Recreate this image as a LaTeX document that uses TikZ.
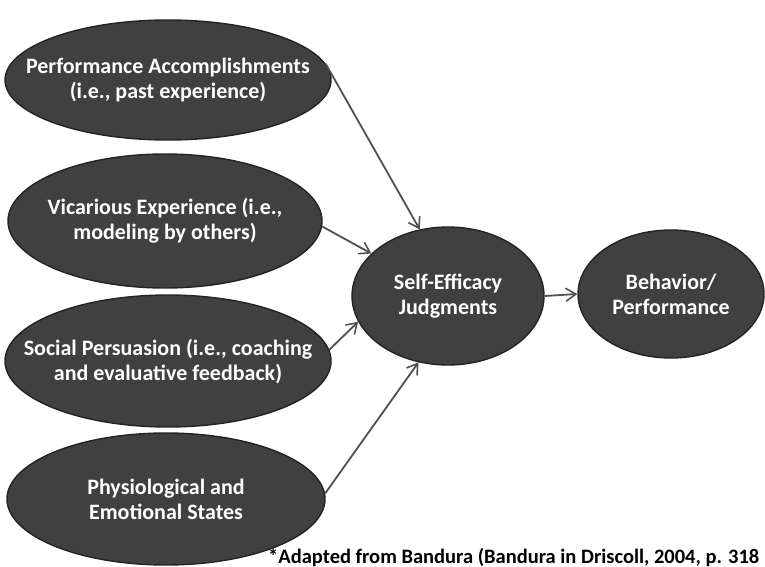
\documentclass[tikz,border=0pt]{standalone}
\usepackage{fontspec}
\setmainfont{Carlito}
\usetikzlibrary{shapes.geometric,arrows.meta}
\definecolor{ellfill}{RGB}{64,64,64}
\definecolor{elldraw}{RGB}{35,35,35}
\definecolor{arrowc}{RGB}{80,80,80}
\tikzset{
  oval/.style={ellipse, draw=elldraw, line width=1.4pt, fill=ellfill, inner sep=0pt},
  lbl/.style={text=white, font=\bfseries\fontsize{22}{25}\selectfont, align=center},
  conn/.style={draw=arrowc, line width=1.8pt, -{Straight Barb[length=10pt,width=13pt,line width=1.6pt]}},
  captxt/.style={font=\bfseries\fontsize{20.5}{24}\selectfont, anchor=base west, inner sep=0pt}
}
\begin{document}
\begin{tikzpicture}[x=1pt,y=-1pt]
\useasboundingbox (0,0) rectangle (765,567);
\clip (0,0) rectangle (765,567);
\node[oval, minimum width=326pt, minimum height=120pt] (pa) at (168,80) {};
\node[lbl] (pat) at (pa.center) {Performance Accomplishments\\(i.e., past experience)};
\node[oval, minimum width=314pt, minimum height=134pt] (ve) at (165,221) {};
\node[lbl] (vet) at (ve.center) {Vicarious Experience (i.e.,\\modeling by others)};
\node[oval, minimum width=326pt, minimum height=132pt] (sp) at (168,361) {};
\node[lbl] (spt) at (sp.center) {Social Persuasion (i.e., coaching\\and evaluative feedback)};
\node[oval, minimum width=318pt, minimum height=132pt] (ps) at (166,499) {};
\node[lbl] (pst) at (ps.center) {Physiological and\\Emotional States};
\node[oval, minimum width=192pt, minimum height=138pt] (se) at (448,296) {};
\node[lbl] (set) at (se.center) {Self-Efficacy\\Judgments};
\node[oval, minimum width=186pt, minimum height=128pt] (bp) at (671,294) {};
\node[lbl] (bpt) at (bp.center) {Behavior/\\Performance};
\draw[conn] (pa.6) -- (se.113);
\draw[conn] (ve.-2) -- (se.151);
\draw[conn] (sp.4) -- (se.196);
\draw[conn] (ps.2) -- (se.246);
\draw[conn] (se.east) -- (bp.west);
\node[captxt] (cp) at (268,563) {*Adapted from Bandura (Bandura in Driscoll, 2004, p. 318};
\end{tikzpicture}
\end{document}
